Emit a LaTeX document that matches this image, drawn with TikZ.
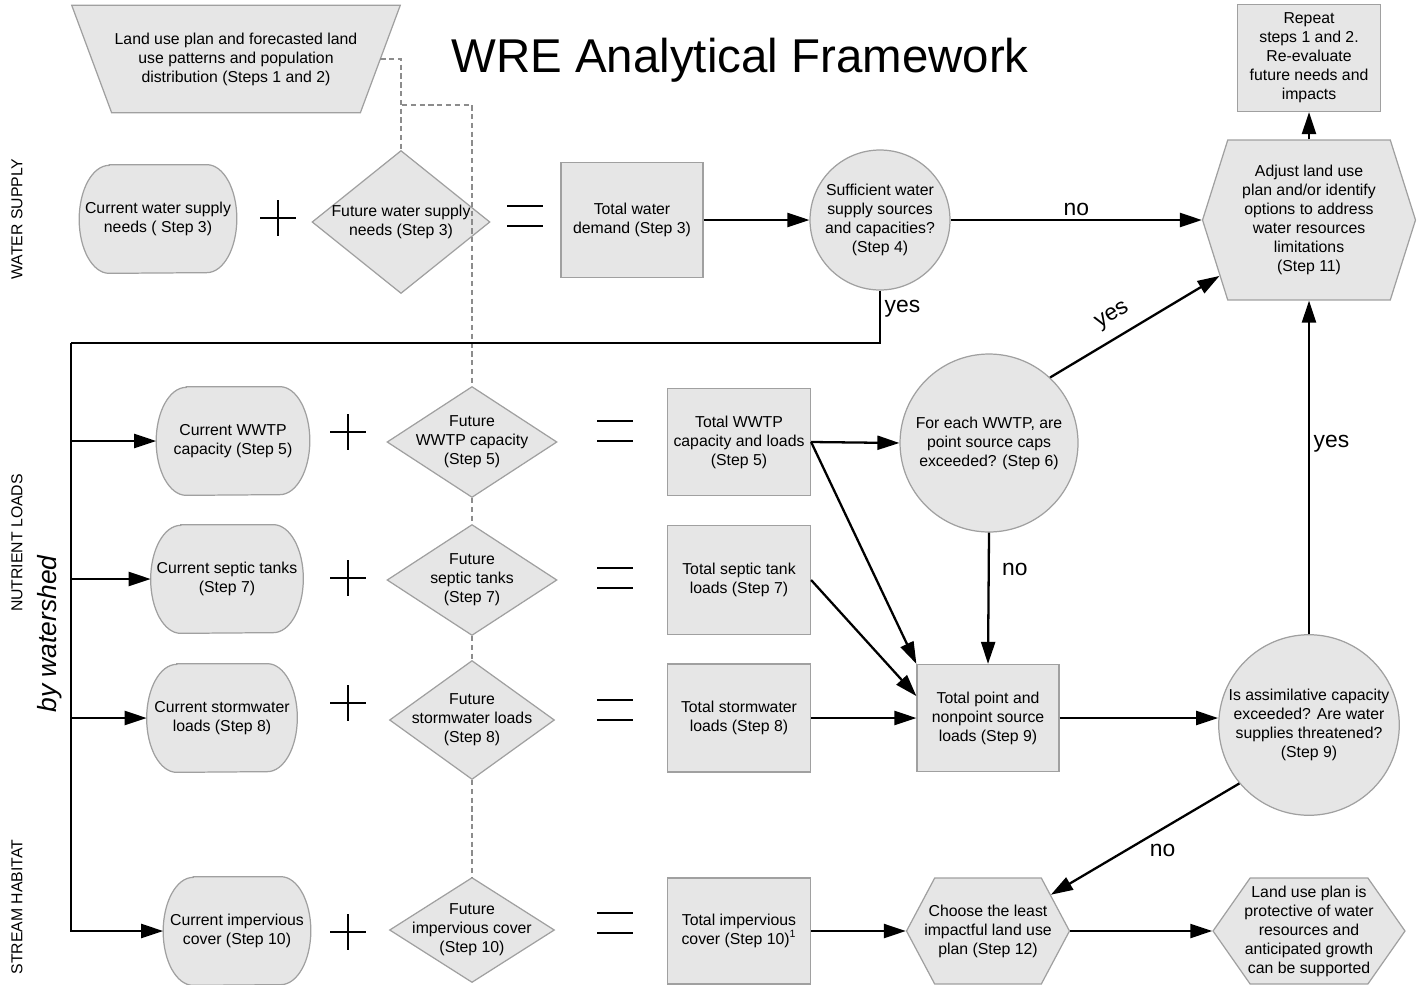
\documentclass[tikz,border=0pt]{standalone}
\usepackage{fontspec}
\setmainfont{Liberation Sans}
\usetikzlibrary{arrows.meta,shapes.geometric,shapes.symbols,backgrounds,calc}

\definecolor{shapefill}{HTML}{E6E6E6}
\definecolor{shapeedge}{HTML}{A0A0A0}
\definecolor{dashgray}{HTML}{8C8C8C}

\tikzset{
  txt/.style={font=\fontsize{9}{10.8}\selectfont, align=center},
  shaped/.style={txt, draw=shapeedge, fill=shapefill, line width=0.7pt, inner sep=1pt},
  stepbox/.style={shaped, rectangle, minimum width=2.86cm, minimum height=2.14cm},
  pill/.style={txt, rectangle, inner sep=1pt, minimum height=2.16cm},
  shapeline/.style={draw=shapeedge, fill=shapefill, line width=0.7pt},
  futdiam/.style={shaped, diamond, inner sep=0pt},
  question/.style={shaped, circle, inner sep=1pt},
  hexa/.style={shaped, signal, signal to=east and west, inner sep=0pt},
  conn/.style={line width=1.3pt},
  arr/.style={conn, -{Triangle[length=4.4mm,width=2.8mm]}},
  dashlink/.style={draw=dashgray, densely dashed, line width=0.6pt},
  lbl/.style={font=\fontsize{13}{15}\selectfont, inner sep=2pt},
  sect/.style={font=\fontsize{9}{11}\selectfont, rotate=90},
  plusmark/.pic={\draw[conn] (-18,0) -- (18,0) (0,-18) -- (0,18);},
  eqmark/.pic={\draw[conn] (-18,-10) -- (18,-10) (-18,10) -- (18,10);}
}

\begin{document}
\begin{tikzpicture}[x=0.02cm, y=-0.02cm]
\useasboundingbox (0,0) rectangle (1419,984);

% titles and side labels
\node[font=\fontsize{27}{32}\selectfont] (title) at (740,60) {WRE Analytical Framework};
\node[sect] (secws) at (17,219) {WATER SUPPLY};
\node[sect] (secnl) at (17,543) {NUTRIENT LOADS};
\node[sect] (secsh) at (17,907) {STREAM HABITAT};
\node[font=\fontsize{15}{18}\selectfont\itshape, rotate=90] (bywat) at (50,634) {by watershed};

\node[txt, minimum width=6.56cm, minimum height=2.14cm] (landplan) at (236,59)
  {Land use plan and forecasted land\\use patterns and population\\distribution (Steps 1 and 2)};

% water supply row
\node[pill, minimum width=3.14cm] (cws) at (158,219) {Current water supply\\needs ( Step 3)};
\node[futdiam, minimum width=3.56cm, minimum height=2.86cm,
  label={[txt]center:Future water supply\\needs (Step 3)}] (fws) at (401,222) {};
\node[stepbox, minimum width=2.84cm, minimum height=2.3cm] (twd) at (632,220) {Total water\\demand (Step 3)};
\node[question, minimum size=2.8cm] (suff) at (880,220) {Sufficient water\\supply sources\\and capacities?\\(Step 4)};
\node[hexa, minimum width=4.26cm, minimum height=3.2cm, signal pointer angle=145] (adj) at (1309,220)
  {Adjust land use\\plan and/or identify\\options to address\\water resources\\limitations\\(Step 11)};
\node[stepbox] (repeat) at (1309,58) {Repeat\\steps 1 and 2.\\Re-evaluate\\future needs and\\impacts};

% nutrient load rows
\node[pill, minimum width=3.06cm] (cwwtp) at (233,441) {Current WWTP\\capacity (Step 5)};
\node[futdiam, minimum width=3.4cm, minimum height=2.22cm,
  label={[txt]center:Future\\WWTP capacity\\(Step 5)}] (fwwtp) at (472,442) {};
\node[stepbox] (twwtp) at (739,442) {Total WWTP\\capacity and loads\\(Step 5)};
\node[question, minimum size=3.56cm] (wwtpq) at (989,443) {For each WWTP, are\\point source caps\\exceeded? (Step 6)};

\node[pill, minimum width=3.04cm] (csep) at (227,579) {Current septic tanks\\(Step 7)};
\node[futdiam, minimum width=3.4cm, minimum height=2.22cm,
  label={[txt]center:Future\\septic tanks\\(Step 7)}] (fsep) at (472,580) {};
\node[stepbox, minimum height=2.18cm] (tsep) at (739,580) {Total septic tank\\loads (Step 7)};

\node[pill, minimum width=3.0cm] (cstorm) at (222,718) {Current stormwater\\loads (Step 8)};
\node[futdiam, minimum width=3.3cm, minimum height=2.38cm,
  label={[txt]center:Future\\stormwater loads\\(Step 8)}] (fstorm) at (472,720) {};
\node[stepbox, minimum height=2.16cm] (tstorm) at (739,718) {Total stormwater\\loads (Step 8)};
\node[stepbox, minimum width=2.84cm] (tpoint) at (988,718) {Total point and\\nonpoint source\\loads (Step 9)};
\node[question, minimum size=3.6cm] (assim) at (1309,725) {Is assimilative capacity\\exceeded? Are water\\supplies threatened?\\(Step 9)};

% stream habitat row
\node[pill, minimum width=2.94cm] (cimp) at (237,931) {Current impervious\\cover (Step 10)};
\node[futdiam, minimum width=3.3cm, minimum height=2.1cm,
  label={[txt]center:Future\\impervious cover\\(Step 10)}] (fimp) at (472,930) {};
\node[stepbox, minimum height=2.12cm] (timp) at (739,931) {Total impervious\\cover (Step 10)\textsuperscript{1}};
\node[hexa, minimum width=3.26cm, minimum height=2.12cm, signal pointer angle=124,
  label={[txt]center:Choose the least\\impactful land use\\plan (Step 12)}] (choose) at (988,931) {};
\node[hexa, minimum width=3.84cm, minimum height=2.12cm, signal pointer angle=110,
  label={[txt]center:Land use plan is\\protective of water\\resources and\\anticipated growth\\can be supported}] (lup) at (1309,931) {};

% pill and trapezoid outlines
\begin{scope}[on background layer]
\foreach \n in {cws,cwwtp,csep,cstorm,cimp}
  \draw[shapeline] ($(\n.north west)+(30,0)$) -- ($(\n.north east)+(-30,0)$)
    arc[start angle=90, end angle=-90, x radius=0.6cm, y radius=1.08cm]
    -- ($(\n.south west)+(30,0)$)
    arc[start angle=270, end angle=90, x radius=0.6cm, y radius=1.08cm] -- cycle;
\draw[shapeline] (landplan.north west) -- (landplan.north east)
  -- ($(landplan.south east)+(-40,0)$) -- ($(landplan.south west)+(40,0)$) -- cycle;
\end{scope}

% plus and equals signs
\pic at (278,218) {plusmark};
\pic at (348,432) {plusmark};
\pic at (348,578) {plusmark};
\pic at (348,703) {plusmark};
\pic at (348,932) {plusmark};
\pic at (525,216) {eqmark};
\pic at (615,431) {eqmark};
\pic at (615,578) {eqmark};
\pic at (615,710) {eqmark};
\pic at (615,923) {eqmark};

% dashed links from land use plan
\coordinate (dashsplit) at (402,105);
\draw[dashlink] ($(landplan.east)+(-20,0)$) -| (fws.north);
\draw[dashlink] (dashsplit) -| (fwwtp.north);
\draw[dashlink] (fwwtp.south) -- (fsep.north);
\draw[dashlink] (fsep.south) -- (fstorm.north);
\draw[dashlink] (fstorm.south) -- (fimp.north);

% water supply flow
\draw[arr] (twd.east) -- (suff.west);
\draw[arr] (suff.east) -- node[lbl, above] {no} (adj.west);
\draw[arr] (adj.north) -- (repeat.south);

% distribution by watershed
\coordinate (bustop) at (71,343);
\draw[conn] (suff.south) -- node[lbl, right, pos=0.35] {yes} (suff.south |- bustop) -- (bustop);
\draw[arr] (bustop) |- (cimp.west);
\foreach \n in {cwwtp,csep,cstorm}
  \draw[arr] (bustop |- \n.west) -- (\n.west);

% nutrient loads flow
\draw[arr] (twwtp.east) -- (wwtpq.west);
\draw[arr] (twwtp.east) -- (tpoint.north west);
\draw[arr] (tsep.east) -- (tpoint.163);
\draw[arr] (tstorm.east) -- (tpoint.west);
\draw[arr] (wwtpq.south) -- node[lbl, right=5pt, pos=0.28] {no} (tpoint.north);
\draw[arr] (wwtpq.47) -- node[lbl, sloped, above=4pt, pos=0.43] {yes} (adj.212);
\draw[arr] (tpoint.east) -- (tpoint.east -| assim.west);
\draw[arr] (assim.north) -- node[lbl, right, pos=0.57] {yes} (adj.south);
\draw[arr] (assim.220) -- node[lbl, below right=0pt, pos=0.5] {no} (choose.30);

% stream habitat flow
\draw[arr] (timp.east) -- (choose.west);
\draw[arr] (choose.east) -- (lup.west);
\end{tikzpicture}
\end{document}
